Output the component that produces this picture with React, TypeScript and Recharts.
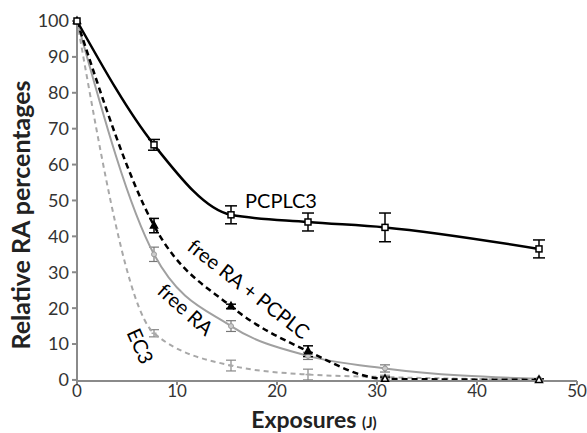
import React from 'react';
import { LineChart, Line, XAxis, YAxis, ErrorBar, ReferenceDot, Label } from 'recharts';

const exposures = [0, 7.7, 15.4, 23.1, 30.8, 46.2];
const pcplc3 = [100, 65.5, 46, 44, 42.5, 36.5];
const pcplc3Err = [0, 1.5, 2.5, 2.5, 4, 2.5];
const freeRaPcplc = [100, 43, 20.5, 8, 0.3, 0];
const freeRaPcplcErr = [0, 2, 0.6, 1.5, 0.5, 0.3];
const freeRa = [100, 35, 15, 6.7, 3.2, 0.3];
const freeRaErr = [0, 2, 1.5, 1, 1, 0];
const ec3 = [100, 13, 4, 1.5, 0.8, 0];
const ec3Err = [0, 1, 1.5, 1.5, 0.5, 0];
const xTicks = [0, 10, 20, 30, 40, 50];
const yTicks = [0, 10, 20, 30, 40, 50, 60, 70, 80, 90, 100];

const data = exposures.map((x, i) => ({
  x,
  pc: pcplc3[i],
  pcErr: pcplc3Err[i],
  frp: freeRaPcplc[i],
  frpErr: freeRaPcplcErr[i],
  fr: freeRa[i],
  frErr: freeRaErr[i],
  ec: ec3[i],
  ecErr: ec3Err[i],
}));

const FONT = 'Lato, "Open Sans", sans-serif';

const SquareDot = (p: any) => (
  <rect key={p.key} x={p.cx - 3} y={p.cy - 3} width={6} height={6} fill="#fff" stroke="#000" strokeWidth={1.5} />
);
const TriDot = (p: any) => (
  <path key={p.key} d={`M${p.cx},${p.cy - 4} L${p.cx + 3.5},${p.cy + 2.5} L${p.cx - 3.5},${p.cy + 2.5} Z`}
    fill={p.index >= 1 && p.index <= 3 ? '#000' : '#fff'} stroke="#000" strokeWidth={1.5} />
);
const CircleDot = (p: any) => (
  <circle key={p.key} cx={p.cx} cy={p.cy} r={2.5} fill="#ccc" stroke="#999" strokeWidth={1} />
);
const DashDot = (p: any) => (
  <line key={p.key} x1={p.cx - 2.5} x2={p.cx + 2.5} y1={p.cy} y2={p.cy} stroke="#aaa" strokeWidth={1.5} />
);

function Anno({ viewBox, text, rot, size }: any) {
  const cx = viewBox.x + viewBox.width / 2;
  const cy = viewBox.y + viewBox.height / 2;
  return (
    <text x={cx} y={cy} textAnchor="middle" dominantBaseline="central" fontFamily={FONT} fontSize={size}
      fill="#000" transform={`rotate(${rot}, ${cx}, ${cy})`}>
      {text}
    </text>
  );
}

function XTitle({ viewBox }: any) {
  const cx = viewBox.x + viewBox.width / 2;
  return (
    <text x={cx - 13} y={viewBox.y + 47} textAnchor="middle" fontFamily={FONT} fill="#222">
      <tspan fontSize={23} fontWeight="bold">Exposures </tspan>
      <tspan fontSize={15} fontWeight="bold">(J)</tspan>
    </text>
  );
}

function YTitle({ viewBox }: any) {
  const cy = viewBox.y + viewBox.height / 2 + 14;
  const x = 20;
  return (
    <text x={x} y={cy} textAnchor="middle" dominantBaseline="central" fontFamily={FONT} fontSize={25}
      fontWeight="bold" fill="#222" transform={`rotate(-90, ${x}, ${cy})`}>
      Relative RA percentages
    </text>
  );
}

export default function App() {
  const tick = { fontFamily: FONT, fontSize: 18, fill: '#333' };
  const xTick = { fontFamily: FONT, fontSize: 17, fill: '#333' };
  return (
    <div style={{ position: 'absolute', left: 0, top: 0, background: '#fff' }}>
      <LineChart width={587} height={433} data={data} margin={{ top: 21, right: 10, left: 0, bottom: 0 }}>
        <XAxis dataKey="x" type="number" domain={[0, 50]} ticks={xTicks} height={52}
          stroke="#8a8a8a" strokeWidth={2} tickSize={4} tickMargin={0} tick={xTick} tickLine={{ stroke: '#8a8a8a' }}>
          <Label content={<XTitle />} />
        </XAxis>
        <YAxis type="number" domain={[0, 100]} ticks={yTicks} width={77} interval={0}
          stroke="#8a8a8a" strokeWidth={2} tickSize={5} tickMargin={3} tick={tick} tickLine={{ stroke: '#8a8a8a' }}>
          <Label content={<YTitle />} />
        </YAxis>
        <Line dataKey="ec" type="monotone" stroke="#a8a8a8" strokeWidth={2} strokeDasharray="5 4"
          dot={DashDot} isAnimationActive={false}>
          <ErrorBar dataKey="ecErr" width={5} stroke="#888" strokeWidth={1.2} direction="y" />
        </Line>
        <Line dataKey="fr" type="monotone" stroke="#a0a0a0" strokeWidth={2}
          dot={CircleDot} isAnimationActive={false}>
          <ErrorBar dataKey="frErr" width={5} stroke="#777" strokeWidth={1.2} direction="y" />
        </Line>
        <Line dataKey="frp" type="monotone" stroke="#000" strokeWidth={2.5} strokeDasharray="6 4"
          dot={TriDot} isAnimationActive={false}>
          <ErrorBar dataKey="frpErr" width={5} stroke="#000" strokeWidth={1.5} direction="y" />
        </Line>
        <Line dataKey="pc" type="monotone" stroke="#000" strokeWidth={2.5}
          dot={SquareDot} isAnimationActive={false}>
          <ErrorBar dataKey="pcErr" width={6} stroke="#000" strokeWidth={1.5} direction="y" />
        </Line>
        <ReferenceDot x={20.4} y={50} r={0} fill="none" stroke="none" ifOverflow="visible"
          label={<Anno text="PCPLC3" rot={0} size={20} />} />
        <ReferenceDot x={17.2} y={25.5} r={0} fill="none" stroke="none" ifOverflow="visible"
          label={<Anno text="free RA + PCPLC" rot={38} size={20} />} />
        <ReferenceDot x={10.9} y={19.8} r={0} fill="none" stroke="none" ifOverflow="visible"
          label={<Anno text="free RA" rot={42} size={20} />} />
        <ReferenceDot x={6.4} y={9.5} r={0} fill="none" stroke="none" ifOverflow="visible"
          label={<Anno text="EC3" rot={66} size={20} />} />
      </LineChart>
    </div>
  );
}
